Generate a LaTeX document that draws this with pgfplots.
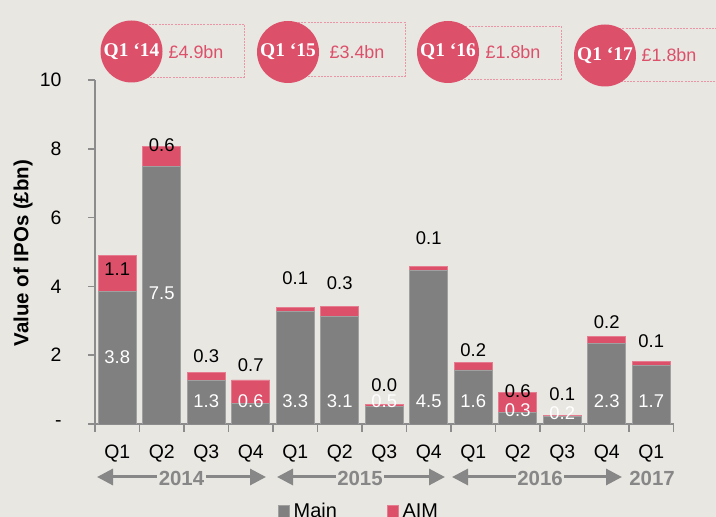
\documentclass[border=0pt]{standalone}
\usepackage{fontspec}
\setmainfont{Liberation Sans}
\newfontfamily\serifb{Liberation Serif}
\usepackage{pgfplots}
\pgfplotsset{compat=1.18}
\usepackage{pgfplotstable}
\usetikzlibrary{arrows.meta}
\definecolor{bg}{RGB}{232,231,226}
\definecolor{aimpink}{RGB}{220,80,106}
\definecolor{maingrey}{RGB}{128,128,128}
\definecolor{axisgrey}{RGB}{140,140,140}
\definecolor{yeargrey}{RGB}{135,135,135}
\definecolor{boxpink}{RGB}{235,150,166}

\pgfplotstableread{
x main aim
0 3.85 1.06
1 7.49 0.58
2 1.27 0.24
3 0.61 0.67
4 3.28 0.11
5 3.13 0.29
6 0.52 0.04
7 4.47 0.12
8 1.57 0.23
9 0.34 0.58
10 0.21 0.05
11 2.35 0.20
12 1.71 0.10
}\bars

\pgfplotstableread{
x y label
0 1.94 3.8
1 3.80 7.5
2 0.67 1.3
3 0.67 0.6
4 0.67 3.3
5 0.67 3.1
6 0.67 0.5
7 0.67 4.5
8 0.67 1.6
9 0.41 0.3
10 0.32 0.2
11 0.67 2.3
12 0.67 1.7
}\mainlab

\pgfplotstableread{
x y label
0 4.49 1.1
1 8.12 0.6
2 1.97 0.3
3 1.71 0.7
4 4.23 0.1
5 4.09 0.3
6 1.13 0.0
7 5.39 0.1
8 2.14 0.2
9 0.96 0.6
10 0.87 0.1
11 2.96 0.2
12 2.41 0.1
}\aimlab

\pgfplotsset{
  common/.style={
    at={(95bp,93bp)}, anchor=south west,
    scale only axis, width=578.5bp, height=344bp,
    xmin=-0.5, xmax=12.5, ymin=0, ymax=10,
    enlargelimits=false,
  }
}

\begin{document}
\begin{tikzpicture}
\useasboundingbox (0,0) rectangle (716bp,517bp);
\fill[bg] (0,0) rectangle (716bp,517bp);
\clip (0,0) rectangle (716bp,517bp);

% header boxes
\draw[boxpink, line width=0.8bp, dash pattern=on 2bp off 1.2bp] (131.5bp,440bp) rectangle (244bp,493bp);
\draw[boxpink, line width=0.8bp, dash pattern=on 2bp off 1.2bp] (288bp,441bp) rectangle (405bp,495bp);
\draw[boxpink, line width=0.8bp, dash pattern=on 2bp off 1.2bp] (448bp,438bp) rectangle (561bp,491bp);
\draw[boxpink, line width=0.8bp, dash pattern=on 2bp off 1.2bp] (605bp,436bp) rectangle (716bp,489bp);

\begin{scope}[every node/.style={circle, fill=aimpink, minimum size=62bp, inner sep=0pt, text=white, font=\serifb\bfseries\fontsize{19.5}{21}\selectfont}]
\node at (131.5bp,465.5bp) {Q1 ‘14};
\node at (288bp,465bp) {Q1 ‘15};
\node at (448bp,465bp) {Q1 ‘16};
\node at (605bp,461.5bp) {Q1 ‘17};
\end{scope}
\begin{scope}[every node/.style={text=aimpink, font=\fontsize{18}{20}\selectfont}]
\node at (196bp,465bp) {£4.9bn};
\node at (357bp,465bp) {£3.4bn};
\node at (513bp,465bp) {£1.8bn};
\node at (669bp,462bp) {£1.8bn};
\end{scope}

\begin{axis}[common,
  ybar stacked, bar width=38bp,
  axis x line*=bottom, axis y line*=left,
  axis line style={draw=axisgrey, line width=1.6bp},
  xtick={0,...,12},
  xticklabels={Q1,Q2,Q3,Q4,Q1,Q2,Q3,Q4,Q1,Q2,Q3,Q4,Q1},
  minor xtick={-0.5,0.5,...,12.5},
  major x tick style={draw=none},
  minor x tick style={draw=axisgrey, line width=1.6bp},
  y tick style={draw=axisgrey, line width=1.6bp},
  tick align=outside,
  major tick length=7bp, minor tick length=8bp,
  ytick={0,2,...,10}, yticklabels={-,2,4,6,8,10},
  yticklabel style={font=\fontsize{19.5}{22}\selectfont, xshift=-23bp},
  xticklabel style={font=\fontsize{19.5}{22}\selectfont, yshift=-10bp},
  ylabel={Value of IPOs (£bn)},
  ylabel style={at={(axis description cs:-0.1245,0.497)}, anchor=center, font=\bfseries\fontsize{20.5}{22}\selectfont},
  legend style={at={(axis description cs:0.4564,-0.254)}, anchor=center, draw=none, fill=none,
    font=\fontsize{20}{22}\selectfont, legend columns=2,
    /tikz/every odd column/.append style={column sep=2bp},
    /tikz/every even column/.append style={column sep=48bp}},
  legend image code/.code={\fill[#1] (0bp,-6bp) rectangle (11bp,6bp);},
]
\addplot[fill=maingrey, draw=maingrey!75!white, line width=0.6bp] table[x=x,y=main]{\bars};
\addplot[fill=aimpink, draw=aimpink!75!white, line width=0.6bp] table[x=x,y=aim]{\bars};
\legend{Main,AIM}
\end{axis}

\begin{axis}[common, hide axis, clip=false]
\addplot[only marks, mark=none,
  nodes near coords, point meta=explicit symbolic,
  nodes near coords style={anchor=center, inner sep=0pt, text=white, font=\fontsize{18.5}{20}\selectfont}]
  table[x=x,y=y,meta=label]{\mainlab};
\addplot[only marks, mark=none,
  nodes near coords, point meta=explicit symbolic,
  nodes near coords style={anchor=center, inner sep=0pt, text=black, font=\fontsize{18.5}{20}\selectfont}]
  table[x=x,y=y,meta=label]{\aimlab};
\end{axis}

% year arrows
\draw[yeargrey, line width=3bp, {Triangle[length=16bp,width=16bp]}-{Triangle[length=16bp,width=16bp]}] (97bp,40bp) -- (266bp,40bp);
\draw[yeargrey, line width=3bp, {Triangle[length=16bp,width=16bp]}-{Triangle[length=16bp,width=16bp]}] (277bp,40bp) -- (445bp,40bp);
\draw[yeargrey, line width=3bp, {Triangle[length=16bp,width=16bp]}-{Triangle[length=16bp,width=16bp]}] (452bp,40bp) -- (622bp,40bp);
\begin{scope}[every node/.style={fill=bg, inner xsep=1.5bp, inner ysep=1bp, text=yeargrey, font=\bfseries\fontsize{20.5}{22}\selectfont}]
\node at (181.5bp,39bp) {2014};
\node at (360bp,39bp) {2015};
\node at (540bp,39bp) {2016};
\node at (652bp,39bp) {2017};
\end{scope}
\end{tikzpicture}
\end{document}
